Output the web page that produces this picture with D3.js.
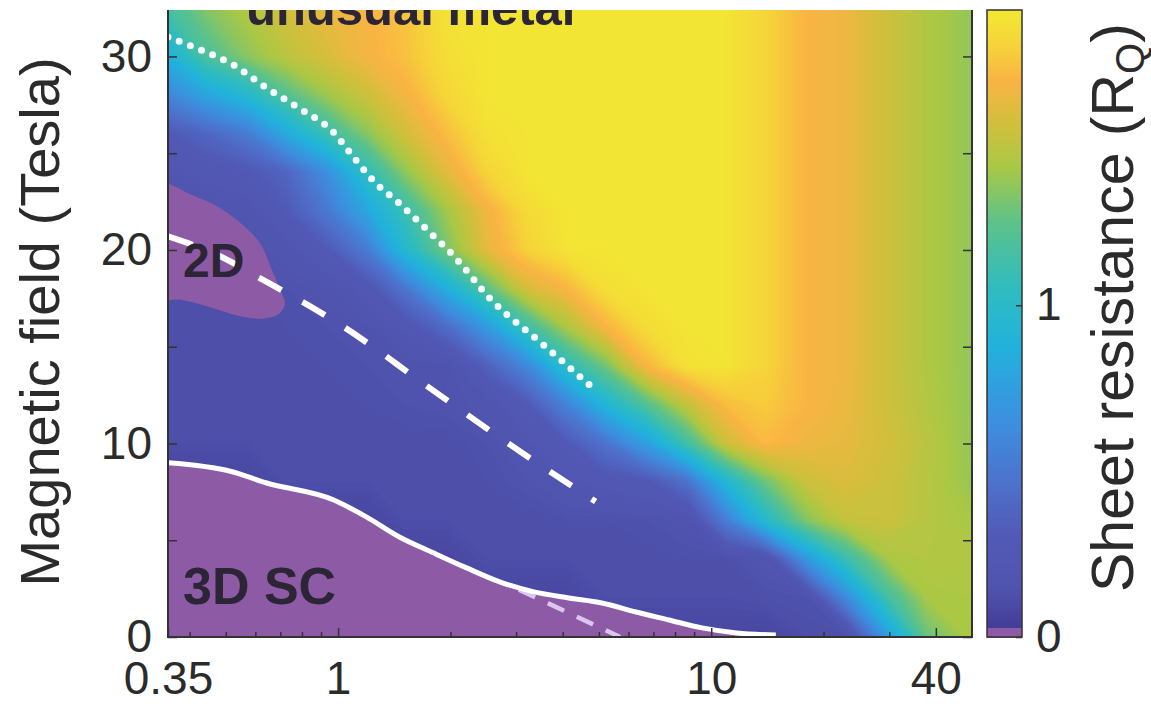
<!DOCTYPE html>
<html>
<head>
<meta charset="utf-8">
<script src="https://cdn.jsdelivr.net/npm/d3@7"></script>
<style>
  html, body { margin: 0; padding: 0; background: #fff; }
</style>
</head>
<body>
<div id="chart"></div>
<script>
// grid columns: temperature (K), log spaced
const temps = [0.35, 0.44, 0.57, 0.72, 0.93, 1.2, 1.5, 1.95, 2.5, 3.2, 4.1, 5.2, 6.7, 8.6, 11, 14, 18, 23, 30, 38, 50]
// grid rows: magnetic field (Tesla)
const fields = [0, 2, 4, 6, 8, 10, 12, 14, 16, 18, 20, 22, 24, 26, 28, 30, 32.4]
// sheet resistance (R_Q), one row per field
const resistance = [
  [0.08, 0.08, 0.08, 0.08, 0.08, 0.08, 0.08, 0.08, 0.08, 0.08, 0.08, 0.08, 0.08, 0.08, 0.08, 0.08, 0.12, 0.13, 0.76, 1.28, 1.44],
  [0.08, 0.08, 0.08, 0.08, 0.08, 0.08, 0.08, 0.08, 0.08, 0.08, 0.08, 0.12, 0.12, 0.12, 0.12, 0.13, 0.14, 0.62, 1.16, 1.42, 1.43],
  [0.08, 0.08, 0.08, 0.08, 0.08, 0.08, 0.08, 0.08, 0.12, 0.12, 0.12, 0.12, 0.12, 0.13, 0.13, 0.17, 0.70, 1.10, 1.42, 1.45, 1.44],
  [0.08, 0.08, 0.08, 0.08, 0.08, 0.08, 0.12, 0.12, 0.12, 0.12, 0.13, 0.13, 0.14, 0.16, 0.55, 0.98, 1.33, 1.50, 1.52, 1.46, 1.42],
  [0.08, 0.08, 0.08, 0.12, 0.12, 0.12, 0.12, 0.12, 0.13, 0.15, 0.20, 0.24, 0.28, 0.46, 0.94, 1.29, 1.52, 1.58, 1.53, 1.46, 1.38],
  [0.12, 0.12, 0.12, 0.12, 0.12, 0.12, 0.12, 0.12, 0.14, 0.20, 0.30, 0.48, 0.76, 1.14, 1.53, 1.70, 1.64, 1.61, 1.55, 1.47, 1.37],
  [0.12, 0.12, 0.12, 0.12, 0.12, 0.13, 0.14, 0.15, 0.17, 0.30, 0.58, 0.92, 1.21, 1.50, 1.71, 1.76, 1.68, 1.63, 1.53, 1.45, 1.37],
  [0.12, 0.12, 0.12, 0.12, 0.13, 0.14, 0.14, 0.15, 0.36, 0.61, 1.03, 1.30, 1.68, 1.85, 1.87, 1.79, 1.68, 1.64, 1.53, 1.44, 1.37],
  [0.12, 0.12, 0.12, 0.13, 0.14, 0.15, 0.23, 0.43, 0.72, 1.12, 1.43, 1.67, 1.83, 1.87, 1.87, 1.79, 1.68, 1.64, 1.53, 1.44, 1.37],
  [0.12, 0.12, 0.12, 0.14, 0.16, 0.25, 0.49, 0.86, 1.23, 1.56, 1.68, 1.84, 1.87, 1.87, 1.87, 1.79, 1.68, 1.64, 1.53, 1.44, 1.37],
  [0.12, 0.12, 0.14, 0.18, 0.30, 0.54, 0.95, 1.31, 1.61, 1.78, 1.87, 1.87, 1.87, 1.87, 1.87, 1.79, 1.68, 1.64, 1.53, 1.44, 1.37],
  [0.15, 0.16, 0.18, 0.30, 0.51, 0.81, 1.10, 1.40, 1.65, 1.82, 1.87, 1.87, 1.87, 1.87, 1.87, 1.79, 1.68, 1.64, 1.53, 1.44, 1.37],
  [0.20, 0.24, 0.28, 0.38, 0.65, 1.05, 1.35, 1.60, 1.79, 1.87, 1.87, 1.87, 1.87, 1.87, 1.87, 1.79, 1.68, 1.64, 1.53, 1.44, 1.37],
  [0.30, 0.39, 0.53, 0.82, 1.11, 1.35, 1.54, 1.71, 1.85, 1.87, 1.87, 1.87, 1.87, 1.87, 1.87, 1.79, 1.68, 1.64, 1.53, 1.44, 1.37],
  [0.60, 0.78, 0.97, 1.21, 1.39, 1.53, 1.65, 1.80, 1.87, 1.87, 1.87, 1.87, 1.87, 1.87, 1.87, 1.79, 1.68, 1.64, 1.53, 1.44, 1.37],
  [0.88, 1.18, 1.35, 1.47, 1.57, 1.66, 1.72, 1.84, 1.87, 1.87, 1.87, 1.87, 1.87, 1.87, 1.87, 1.79, 1.68, 1.64, 1.53, 1.44, 1.37],
  [1.15, 1.33, 1.45, 1.55, 1.62, 1.67, 1.73, 1.86, 1.87, 1.87, 1.87, 1.87, 1.87, 1.87, 1.87, 1.79, 1.68, 1.64, 1.53, 1.44, 1.37]
]

// 3D superconducting boundary (solid white line)
const scT = [0.35, 0.52, 0.64, 0.97, 1.19, 1.46, 1.80, 2.21, 2.71, 3.35, 4.15, 5.09, 6.29, 7.71, 9.45, 11.7, 14.9]
const scB = [9.0, 8.54, 7.97, 7.09, 6.21, 5.17, 4.35, 3.57, 2.85, 2.33, 2.02, 1.76, 1.29, 0.88, 0.47, 0.21, 0.10]
// 2D zero-resistance pocket
const pocketT = [0.33, 0.41, 0.48, 0.555, 0.62, 0.66, 0.70, 0.72, 0.69, 0.63, 0.54, 0.45, 0.38, 0.33]
const pocketB = [23.4, 22.8, 22.2, 21.3, 20.3, 19.1, 17.95, 17.2, 16.66, 16.45, 16.6, 17.07, 17.43, 17.55]
// dashed line (2D)
const dashT = [0.35, 0.48, 0.61, 1.04, 1.75, 2.86, 4.9]
const dashB = [20.7, 19.7, 18.6, 16.0, 12.9, 10.0, 7.0]
// dotted line (unusual metal onset)
const dotT = [0.35, 0.42, 0.52, 0.64, 0.79, 0.97, 1.1, 1.24, 1.46, 1.72, 2.04, 2.58, 3.5, 4.8]
const dotB = [31.0, 30.4, 29.6, 28.4, 27.3, 26.1, 24.8, 23.6, 22.4, 21.1, 19.7, 17.4, 15.2, 12.9]
// faint dashed extension
const extT = [3.05, 5.7]
const extB = [2.45, 0]

const xTicks = [0.35, 1, 10, 40]
const xMinor = [0.4, 0.5, 0.6, 0.7, 0.8, 0.9, 2, 3, 4, 5, 6, 7, 8, 9, 20, 30]
const yTicks = [0, 5, 10, 15, 20, 25, 30]
const cTicks = [0, 1]

// colour map (value -> colour)
const colorStops = [0.03, 0.15, 0.30, 0.45, 0.65, 0.88, 1.05, 1.25, 1.42, 1.55, 1.68, 1.78, 1.89]
const colorHex = ['#433c98', '#5054ae', '#5159b5', '#4f6fc9', '#3d8fdf', '#22b2dc', '#2fbcc0', '#5cc28a', '#a9c845', '#d2bf3c', '#f9b443', '#f6d23a', '#f2e833']
const zeroColor = '#8d5aa6'

const font = '"Liberation Sans", Arial, Helvetica, sans-serif'
const ink = '#2b2b2b'

const svg = d3.select('#chart').append('svg')
  .attr('width', 1151)
  .attr('height', 704)

const x = d3.scaleLog().domain([0.35, 50]).range([168, 972])
const y = d3.scaleLinear().domain([0, 32.4]).range([637, 10])
const c = d3.scaleLinear().domain([0, 1.89]).range([637, 10])

const ramp = d3.scaleLinear().domain(colorStops).range(colorHex).clamp(true)
const color = v => v < 0.03 ? zeroColor : ramp(v)

svg.append('defs').append('clipPath').attr('id', 'plot')
  .append('rect')
  .attr('x', 168).attr('y', 10)
  .attr('width', 804).attr('height', 627)

const plot = svg.append('g').attr('clip-path', 'url(#plot)')

// heat map: filled contours of the grid
const n = temps.length
const m = fields.length
const logT = temps.map(Math.log10)
const gridPos = (arr, k) => {
  const s = Math.max(0, Math.min(arr.length - 1, k - 0.5))
  const i = Math.min(arr.length - 2, Math.floor(s))
  return arr[i] + (s - i) * (arr[i + 1] - arr[i])
}
const toPx = d3.geoTransform({
  point (px, py) { this.stream.point(x(10 ** gridPos(logT, px)), y(gridPos(fields, py))) }
})
const bands = d3.contours()
  .size([n, m])
  .thresholds(d3.range(0.04, 1.9, 0.01))(resistance.flat())

plot.append('g')
  .selectAll('path')
  .data(bands)
  .join('path')
  .attr('d', d3.geoPath(toPx))
  .attr('fill', d => color(d.value + 0.005))

// zero resistance regions
plot.append('path')
  .datum(d3.zip(pocketT, pocketB))
  .attr('d', d3.line().x(d => x(d[0])).y(d => y(d[1])).curve(d3.curveCatmullRomClosed))
  .attr('fill', zeroColor)

plot.append('path')
  .datum(d3.zip(scT, scB))
  .attr('d', d3.area().x(d => x(d[0])).y0(y(0)).y1(d => y(d[1])).curve(d3.curveMonotoneX))
  .attr('fill', zeroColor)

const line = d3.line().x(d => x(d[0])).y(d => y(d[1])).curve(d3.curveMonotoneX)

plot.append('path')
  .datum(d3.zip(extT, extB))
  .attr('d', line)
  .attr('fill', 'none')
  .attr('stroke', '#dcc6ec')
  .attr('stroke-width', 4.5)
  .attr('stroke-dasharray', '18 14')

plot.append('path')
  .datum(d3.zip(scT, scB))
  .attr('d', line)
  .attr('fill', 'none')
  .attr('stroke', '#fff')
  .attr('stroke-width', 5)

plot.append('path')
  .datum(d3.zip(dashT, dashB))
  .attr('d', line)
  .attr('fill', 'none')
  .attr('stroke', '#fff')
  .attr('stroke-width', 6)
  .attr('stroke-dasharray', '26 24')

plot.append('path')
  .datum(d3.zip(dotT, dotB))
  .attr('d', line)
  .attr('fill', 'none')
  .attr('stroke', '#f4faff')
  .attr('stroke-width', 7)
  .attr('stroke-linecap', 'round')
  .attr('stroke-dasharray', '0 12')

// region names
const label = (t, px, py, size) => plot.append('text')
  .attr('x', px).attr('y', py)
  .attr('font-family', font)
  .attr('font-weight', 'bold')
  .attr('font-size', size)
  .attr('fill', '#2b2535')
  .text(t)

label('unusual metal', 246, 25, 49)
label('2D', 183, 277, 48)
label('3D SC', 183, 604, 52)

// frame and axes
svg.append('path')
  .attr('d', 'M168,10V637H972V10')
  .attr('fill', 'none')
  .attr('stroke', '#333')
  .attr('stroke-width', 2)

const axisStyle = g => {
  g.attr('font-family', font).attr('font-size', 46)
  g.select('.domain').remove()
  g.selectAll('line').attr('stroke', '#333').attr('stroke-width', 1.5)
  g.selectAll('text').attr('fill', ink)
}

svg.append('g')
  .attr('transform', 'translate(0,637)')
  .call(d3.axisBottom(x).tickValues(xTicks).tickFormat(d3.format('~g')).tickSize(-9).tickPadding(24))
  .call(axisStyle)

svg.append('g')
  .attr('transform', 'translate(0,637)')
  .call(d3.axisBottom(x).tickValues(xMinor).tickFormat('').tickSize(-5))
  .call(axisStyle)

svg.append('g')
  .attr('transform', 'translate(168,0)')
  .call(d3.axisLeft(y).tickValues(yTicks).tickFormat(d => d % 10 === 0 ? d : '').tickSize(-9).tickPadding(16))
  .call(axisStyle)

svg.append('g')
  .attr('transform', 'translate(972,0)')
  .call(d3.axisRight(y).tickValues(yTicks).tickFormat('').tickSize(-9))
  .call(axisStyle)

svg.append('text')
  .attr('transform', 'translate(59,322) rotate(-90)')
  .attr('text-anchor', 'middle')
  .attr('font-family', font)
  .attr('font-size', 56)
  .attr('fill', ink)
  .text('Magnetic field (Tesla)')

// colour bar
const cbSteps = d3.range(0, 1.89, 0.01)
svg.append('g')
  .selectAll('rect')
  .data(cbSteps)
  .join('rect')
  .attr('x', 987)
  .attr('width', 35)
  .attr('y', d => c(Math.min(d + 0.01, 1.89)))
  .attr('height', d => c(d) - c(Math.min(d + 0.01, 1.89)) + 0.6)
  .attr('fill', d => color(d + 0.005))
  .attr('shape-rendering', 'crispEdges')

svg.append('rect')
  .attr('x', 987).attr('y', 10)
  .attr('width', 35).attr('height', 627)
  .attr('fill', 'none')
  .attr('stroke', '#333')
  .attr('stroke-width', 1.5)

svg.append('g')
  .attr('transform', 'translate(1022,0)')
  .call(d3.axisRight(c).tickValues(cTicks).tickFormat(d3.format('d')).tickSize(-6).tickPadding(14))
  .call(axisStyle)

const cbLabel = svg.append('text')
  .attr('transform', 'translate(1133,592) rotate(-90)')
  .attr('font-family', font)
  .attr('font-size', 59)
  .attr('fill', ink)
cbLabel.append('tspan').text('Sheet resistance (R')
cbLabel.append('tspan').attr('font-size', 40).attr('dy', 11).text('Q')
cbLabel.append('tspan').attr('dy', -11).text(')')
</script>
</body>
</html>
